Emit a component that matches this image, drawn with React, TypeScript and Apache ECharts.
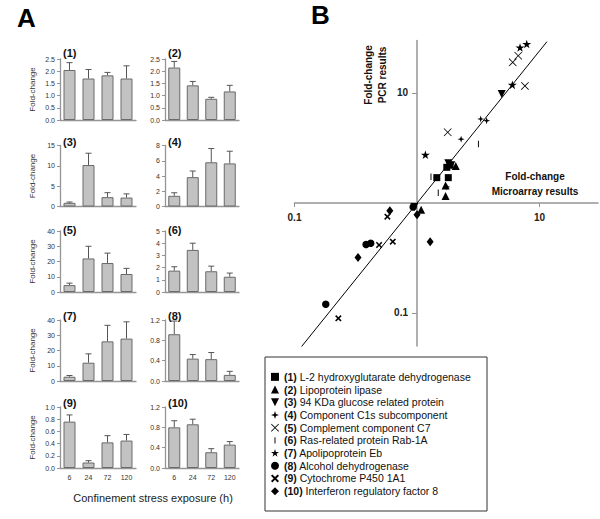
import React, { useEffect, useRef } from 'react';
import * as echarts from 'echarts';

const FONT = "'Liberation Sans', Arial, Helvetica, sans-serif";

// ---------- Panel A data ----------
const hours = ['6', '24', '72', '120'];
const panelTitles = ['(1)', '(2)', '(3)', '(4)', '(5)', '(6)', '(7)', '(8)', '(9)', '(10)'];

const p1Mean = [2.05, 1.7, 1.83, 1.7];
const p1Upper = [2.35, 2.07, 1.95, 2.22];
const p2Mean = [2.15, 1.42, 0.87, 1.17];
const p2Upper = [2.4, 1.58, 0.93, 1.42];
const p3Mean = [0.9, 10.2, 2.3, 2.2];
const p3Upper = [1.1, 13.1, 3.4, 3.1];
const p4Mean = [1.4, 3.85, 5.8, 5.65];
const p4Upper = [1.8, 4.65, 7.6, 7.25];
const p5Mean = [4.5, 22, 19, 11.8];
const p5Upper = [5.8, 30, 25.5, 15.5];
const p6Mean = [1.75, 3.45, 1.7, 1.25];
const p6Upper = [2.07, 4.0, 2.12, 1.55];
const p7Mean = [2.8, 12, 26, 27.8];
const p7Upper = [3.6, 17.8, 36.5, 38.8];
const p8Mean = [0.92, 0.44, 0.43, 0.12];
const p8Upper = [1.18, 0.52, 0.56, 0.19];
const p9Mean = [0.76, 0.09, 0.42, 0.45];
const p9Upper = [0.87, 0.12, 0.53, 0.55];
const p10Mean = [0.8, 0.86, 0.31, 0.46];
const p10Upper = [0.93, 0.96, 0.38, 0.52];

const axisMax = [2.5, 2.5, 15, 8, 40, 5, 40, 1.2, 1.0, 1.2];
const axisStep = [0.5, 0.5, 5, 2, 10, 1, 10, 0.4, 0.2, 0.4];
const axisDecimals = [1, 1, 0, 0, 0, 0, 0, 1, 1, 1];

const means = [p1Mean, p2Mean, p3Mean, p4Mean, p5Mean, p6Mean, p7Mean, p8Mean, p9Mean, p10Mean];
const uppers = [p1Upper, p2Upper, p3Upper, p4Upper, p5Upper, p6Upper, p7Upper, p8Upper, p9Upper, p10Upper];

// ---------- Panel B data: [microarray fold-change, PCR fold-change] ----------
const geneNames = [
  'L-2 hydroxyglutarate dehydrogenase',
  'Lipoprotein lipase',
  '94 KDa glucose related protein',
  'Component C1s subcomponent',
  'Complement component C7',
  'Ras-related protein Rab-1A',
  'Apolipoprotein Eb',
  'Alcohol dehydrogenase',
  'Cytochrome P450 1A1',
  'Interferon regulatory factor 8',
];
const g1Points = [[1.45, 1.7], [1.8, 1.7], [1.75, 2.11], [1.86, 2.21]];
const g2Points = [[2.07, 2.17], [1.71, 1.44], [1.71, 1.16], [1.08, 0.87]];
const g3Points = [[4.91, 9.8], [1.8, 2.3], [1.9, 2.2], [0.95, 0.92]];
const g4Points = [[3.31, 5.8], [3.7, 5.6], [2.29, 3.8], [1.75, 1.4]];
const g5Points = [[6.7, 21.8], [6.04, 19.0], [7.6, 11.6], [1.78, 4.4]];
const g6Points = [[3.17, 3.44], [1.3, 1.73], [1.49, 1.24]];
const g7Points = [[7.86, 27.7], [6.93, 25.8], [6.0, 11.8], [1.17, 2.73]];
const g8Points = [[0.93, 0.92], [0.384, 0.42], [0.419, 0.43], [0.18, 0.12]];
const g9Points = [[0.573, 0.75], [0.49, 0.415], [0.634, 0.445], [0.228, 0.0895]];
const g10Points = [[0.6, 0.85], [0.33, 0.32], [1.28, 0.445], [1.0, 0.78]];
const genePoints = [g1Points, g2Points, g3Points, g4Points, g5Points, g6Points, g7Points, g8Points, g9Points, g10Points];

const fitLine = [[0.11, 0.047], [11.5, 29.3]];
const scatterTicks = [0.1, 10];

const SYMBOLS = [
  'rect',
  'triangle',
  'path://M0,0 L10,0 L5,10 Z',
  'path://M5,0 L6.2,3.8 L10,5 L6.2,6.2 L5,10 L3.8,6.2 L0,5 L3.8,3.8 Z',
  'path://M0,0.7 L0.7,0 L5,4.3 L9.3,0 L10,0.7 L5.7,5 L10,9.3 L9.3,10 L5,5.7 L0.7,10 L0,9.3 L4.3,5 Z',
  'path://M0,0 M10,10 M4.4,1 L5.6,1 L5.6,9 L4.4,9 Z',
  'path://M0,0 M10,10 M5,0 L6.18,3.62 L10,3.62 L6.9,5.86 L8.09,9.51 L5,7.26 L1.91,9.51 L3.1,5.86 L0,3.62 L3.82,3.62 Z',
  'circle',
  'path://M0,1.7 L1.7,0 L5,3.3 L8.3,0 L10,1.7 L6.7,5 L10,8.3 L8.3,10 L5,6.7 L1.7,10 L0,8.3 L3.3,5 Z',
  'diamond',
];
const SYMBOL_SIZES: any[] = [7, 8, 8, 7, 8, 8, 9, 7.5, 6.5, [7, 9]];

const colLeft = [60, 165];
const colWidth = [76, 74];
const rowTop = [59, 145.5, 231, 320, 407];
const rowTitleCenter = [53, 142, 230, 316, 403];
const GRID_H = 61;

export default function App() {
  const ref = useRef<HTMLDivElement>(null);

  useEffect(() => {
    if (!ref.current) return;
    const chart = echarts.init(ref.current, null, { renderer: 'svg' });

    const grids: any[] = [];
    const xAxes: any[] = [];
    const yAxes: any[] = [];
    const series: any[] = [];
    const titles: any[] = [];
    const axisColor = '#959595';

    means.forEach((mean, i) => {
      const col = i % 2;
      const row = Math.floor(i / 2);
      grids.push({ left: colLeft[col], top: rowTop[row], width: colWidth[col], height: GRID_H });
      xAxes.push({
        gridIndex: i,
        type: 'category',
        data: hours,
        axisLine: { lineStyle: { color: axisColor, width: 1.3 } },
        axisTick: { alignWithLabel: true, length: 3, lineStyle: { color: axisColor } },
        axisLabel: { show: row === 4, fontSize: 7, color: '#333', margin: 6, fontFamily: FONT },
      });
      const dec = axisDecimals[i];
      yAxes.push({
        gridIndex: i,
        type: 'value',
        min: 0,
        max: axisMax[i],
        interval: axisStep[i],
        splitLine: { show: false },
        axisLine: { show: true, lineStyle: { color: axisColor, width: 1.3 } },
        axisTick: { show: true, length: 3, lineStyle: { color: axisColor } },
        axisLabel: {
          fontSize: 7,
          color: '#333',
          margin: 5,
          fontFamily: FONT,
          formatter: (v: number) => v.toFixed(dec),
        },
        name: col === 0 ? 'Fold-change' : '',
        nameLocation: 'middle',
        nameRotate: 90,
        nameGap: 24,
        nameTextStyle: { fontSize: 8, color: '#333', fontFamily: FONT },
      });
      series.push({
        type: 'bar',
        xAxisIndex: i,
        yAxisIndex: i,
        data: mean,
        barWidth: 12,
        itemStyle: { color: '#c2c2c2', borderColor: '#6a6a6a', borderWidth: 1 },
        silent: true,
      });
      const upper = uppers[i];
      series.push({
        type: 'custom',
        xAxisIndex: i,
        yAxisIndex: i,
        z: 5,
        encode: { x: 0, y: [1, 2] },
        data: mean.map((m, k) => [k, m, upper[k]]),
        renderItem: (_params: any, api: any) => {
          const k = api.value(0);
          const p0 = api.coord([k, api.value(1)]);
          const p1 = api.coord([k, api.value(2)]);
          const st = { stroke: '#555', lineWidth: 1 };
          return {
            type: 'group',
            children: [
              { type: 'line', shape: { x1: p0[0], y1: p0[1], x2: p1[0], y2: p1[1] }, style: st },
              { type: 'line', shape: { x1: p1[0] - 3, y1: p1[1], x2: p1[0] + 3, y2: p1[1] }, style: st },
            ],
          };
        },
      });
      titles.push({
        text: panelTitles[i],
        left: colLeft[col] + 3,
        top: rowTitleCenter[row] - 6,
        padding: 0,
        textStyle: { fontSize: 11, fontWeight: 'bold', color: '#111', fontFamily: FONT, lineHeight: 12 },
      });
    });

    // ---- Panel B scatter (log-log) ----
    const gi = means.length;
    const sLeft = 294.5;
    const sTop = 40.5;
    const sW = 303.5;
    const sH = 305.6;
    const originX = 417;
    const originY = 203;
    grids.push({ left: sLeft, top: sTop, width: sW, height: sH });
    xAxes.push({
      gridIndex: gi,
      type: 'log',
      logBase: 10,
      min: 0.1,
      max: 30,
      position: 'bottom',
      offset: -(sTop + sH - originY),
      splitLine: { show: false },
      axisLine: { lineStyle: { color: axisColor, width: 1.5 } },
      axisTick: { show: true, length: 4, customValues: scatterTicks, lineStyle: { color: axisColor } },
      axisLabel: {
        customValues: scatterTicks,
        fontSize: 10,
        fontWeight: 'bold',
        color: '#222',
        margin: 9,
        fontFamily: FONT,
      },
    });
    yAxes.push({
      gridIndex: gi,
      type: 'log',
      logBase: 10,
      min: 0.05,
      max: 30,
      position: 'left',
      offset: -(originX - sLeft),
      splitLine: { show: false },
      axisLine: { lineStyle: { color: axisColor, width: 1.5 } },
      axisTick: { show: true, length: 5, customValues: scatterTicks, lineStyle: { color: axisColor } },
      axisLabel: {
        customValues: scatterTicks,
        fontSize: 10,
        fontWeight: 'bold',
        color: '#222',
        margin: 9,
        fontFamily: FONT,
      },
    });
    series.push({
      type: 'line',
      xAxisIndex: gi,
      yAxisIndex: gi,
      data: fitLine,
      showSymbol: false,
      symbol: 'none',
      silent: true,
      lineStyle: { color: '#000', width: 1 },
      z: 2,
    });
    const seriesNames = geneNames.map((n, i) => `(${i + 1}) ${n}`);
    genePoints.forEach((pts, i) => {
      series.push({
        type: 'scatter',
        name: seriesNames[i],
        xAxisIndex: gi,
        yAxisIndex: gi,
        data: pts,
        symbol: SYMBOLS[i],
        symbolSize: SYMBOL_SIZES[i],
        itemStyle: { color: '#000', opacity: 1 },
        z: 4,
      });
    });

    const option: any = {
      animation: false,
      backgroundColor: '#fff',
      textStyle: { fontFamily: FONT },
      title: titles,
      grid: grids,
      xAxis: xAxes,
      yAxis: yAxes,
      series,
      legend: {
        orient: 'vertical',
        left: 271,
        top: 370.5,
        padding: 0,
        itemGap: 0,
        itemWidth: 8,
        itemHeight: 8,
        selectedMode: false,
        data: seriesNames.map((n, i) => ({ name: n, icon: SYMBOLS[i] })),
        formatter: (name: string) => {
          const m = name.match(/^(\(\d+\))\s(.*)$/);
          return m ? `{b|${m[1]}} ${m[2]}` : name;
        },
        textStyle: {
          fontSize: 10.5,
          color: '#111',
          fontFamily: FONT,
          lineHeight: 12.7,
          rich: {
            b: { fontSize: 10.5, fontWeight: 'bold', color: '#111', fontFamily: FONT, lineHeight: 12.7 },
          },
        },
      },
      graphic: [
        {
          type: 'text',
          x: 17,
          y: 18,
          style: {
            text: 'A', fontSize: 26, fontWeight: 'bold', fontFamily: FONT, fill: '#000',
            verticalAlign: 'middle', textVerticalAlign: 'middle',
          },
        },
        {
          type: 'text',
          x: 311,
          y: 15,
          style: {
            text: 'B', fontSize: 26, fontWeight: 'bold', fontFamily: FONT, fill: '#000',
            verticalAlign: 'middle', textVerticalAlign: 'middle',
          },
        },
        {
          type: 'text',
          x: 153,
          y: 498,
          style: {
            text: 'Confinement stress exposure (h)', fontSize: 11, fontFamily: FONT, fill: '#222',
            align: 'center', textAlign: 'center', verticalAlign: 'middle', textVerticalAlign: 'middle',
          },
        },
        {
          type: 'text',
          x: 375,
          y: 75,
          rotation: Math.PI / 2,
          style: {
            text: 'Fold-change\nPCR results', fontSize: 10, fontWeight: 'bold', fontFamily: FONT, fill: '#111',
            lineHeight: 14,
            align: 'center', textAlign: 'center', verticalAlign: 'middle', textVerticalAlign: 'middle',
          },
        },
        {
          type: 'text',
          x: 535,
          y: 184,
          style: {
            text: 'Fold-change\nMicroarray results', fontSize: 10, fontWeight: 'bold', fontFamily: FONT, fill: '#111',
            lineHeight: 15,
            align: 'center', textAlign: 'center', verticalAlign: 'middle', textVerticalAlign: 'middle',
          },
        },
        {
          type: 'rect',
          shape: { x: 265, y: 357, width: 222, height: 154 },
          style: { fill: 'none', stroke: '#333', lineWidth: 1 },
          z: -1,
        },
      ],
    };

    chart.setOption(option);
    return () => chart.dispose();
  }, []);

  return (
    <div
      ref={ref}
      style={{ position: 'fixed', left: 0, top: 0, width: 600, height: 519, background: '#fff' }}
    />
  );
}
